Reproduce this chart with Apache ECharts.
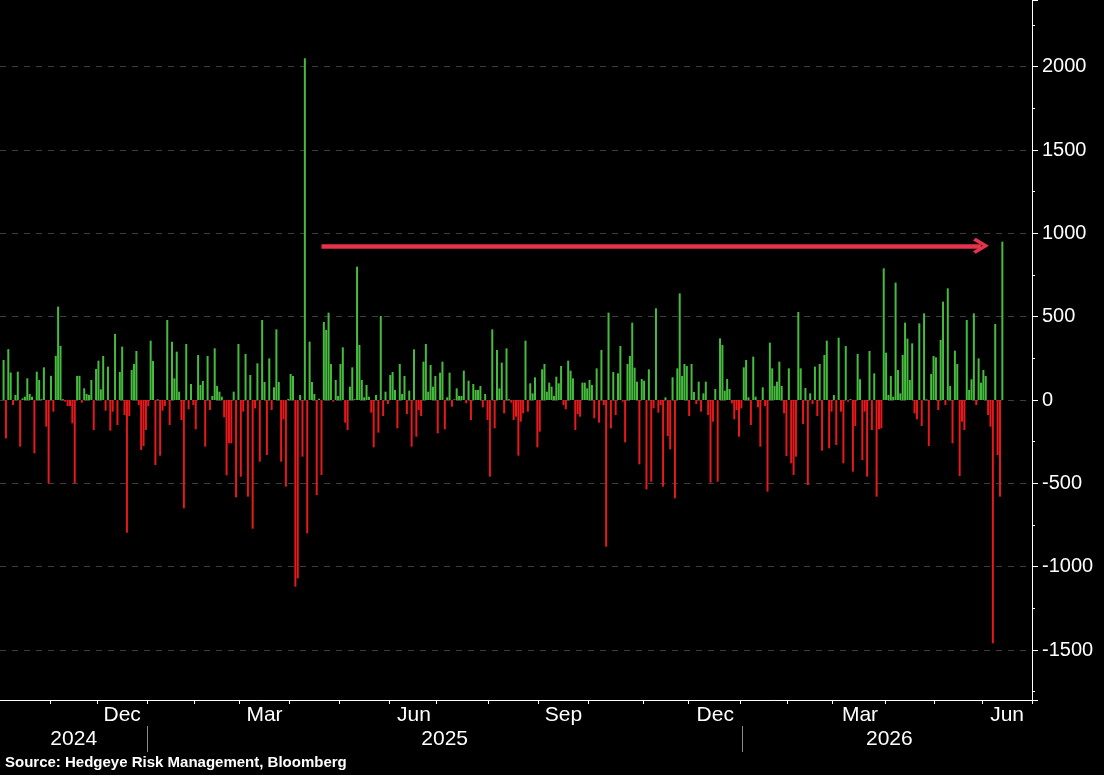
<!DOCTYPE html>
<html>
<head>
<meta charset="utf-8">
<script src="https://cdn.jsdelivr.net/npm/echarts@6.0.0/dist/echarts.min.js"></script>
<style>
html,body{margin:0;padding:0;background:#000;}
#chart{width:1104px;height:775px;}
</style>
</head>
<body>
<div id="chart"></div>
<script>
// ---- axis span (trading days) ----
const axisStart = '2024-10-03';
const axisEnd = '2026-06-30';
const marketHolidays = ['2024-11-28','2024-12-25','2025-01-01','2025-01-09','2025-01-20','2025-02-17',
  '2025-04-18','2025-05-26','2025-06-19','2025-07-04','2025-09-01','2025-11-27','2025-12-25',
  '2026-01-01','2026-01-19','2026-02-16','2026-04-03','2026-05-25','2026-06-19'];
const dataStart = '2024-10-04';

// ---- daily values (one per trading day from dataStart) ----
const values2024 = [
  240,-230,305,165,-30,30,170,-280,10,20,
  130,36,20,-320,170,120,5,196,-160,-500,
  145,-70,265,560,325,5,-10,-36,-36,-140,
  -500,145,145,-16,70,36,30,120,-180,186,
  236,64,264,-64,200,-184,-70,396,-150,168,
  320,-90,-796,-96,180,216,294,-30,-300,-276,
  -180
];
const values2025 = [
  -36,356,234,-390,4,-334,-64,-36,480,-150,
  350,130,290,50,-120,-650,336,-56,96,-30,
  -176,270,90,114,-280,264,-60,24,310,84,
  50,20,-104,-452,-260,-260,50,-584,336,-460,
  -70,276,-580,150,-772,-50,220,-370,480,108,
  -330,250,-60,76,424,108,-370,-116,-520,6,
  156,144,-1120,-1070,30,-340,2050,-800,350,108,
  36,-570,8,-450,468,420,524,216,-10,120,
  24,216,316,-136,-180,80,196,5,800,330,
  120,16,90,20,-76,-284,30,-196,504,-96,
  50,-24,150,168,60,-170,216,36,144,-84,
  56,-280,304,-220,-60,-96,230,336,50,210,
  80,144,-200,164,230,-176,16,164,-40,4,
  70,24,24,176,-20,116,-120,96,60,60,
  84,-44,36,-120,-460,424,-170,300,70,224,
  -80,310,5,-16,-120,-100,-334,-130,-80,356,
  -70,100,40,136,-284,-190,184,216,50,104,
  80,24,140,100,204,-30,-56,236,176,130,
  -180,-84,-100,104,104,70,120,90,-110,190,
  -136,300,-30,-880,524,-170,168,-90,160,324,
  -10,-254,216,264,464,194,110,-386,126,116,
  -536,184,-490,-50,550,-76,-30,-520,16,-216,
  -296,136,-590,190,640,144,216,204,-96,216,
  48,-24,110,-70,40,110,-90,-496,-130,66,
  -490,370,330,56,126,66,-20,-116,-60,-220
];
const values2026 = [
  -50,196,240,16,-150,260,20,-44,-280,76,
  -36,-550,344,190,84,110,230,84,-80,-336,
  190,-380,-450,-340,528,190,-144,72,-510,40,
  -24,200,-96,216,-304,270,356,-290,-70,30,
  -270,374,-70,-380,324,-10,5,-430,-156,276,
  124,-360,-70,-460,294,-180,160,-580,-176,-170,
  790,284,30,144,20,704,180,40,270,464,
  368,120,340,-80,-116,460,-156,520,4,-276,
  156,264,256,-60,360,590,-30,670,84,-260,
  296,216,-456,-130,-180,480,60,124,520,-30,
  250,104,180,144,-90,-160,-1460,456,-330,-580,
  950
];

// ---- labels ----
const monthNames = ['Jan','Feb','Mar','Apr','May','Jun','Jul','Aug','Sep','Oct','Nov','Dec'];
const labelledMonths = [2, 5, 8, 11];
const yTickLabels = [-1500, -1000, -500, 0, 500, 1000, 1500, 2000];
const arrowFrom = ['2025-04-21', 925];
const arrowTo = ['2026-05-29', 925];
const sourceText = 'Source: Hedgeye Risk Management, Bloomberg';

// ---- build trading-day categories ----
function fmt(d){ return d.toISOString().slice(0,10); }
const holidaySet = new Set(marketHolidays);
const categories = [];
for (let d = new Date(axisStart + 'T00:00:00Z'); fmt(d) <= axisEnd; d.setUTCDate(d.getUTCDate()+1)) {
  const wd = d.getUTCDay();
  const s = fmt(d);
  if (wd !== 0 && wd !== 6 && !holidaySet.has(s)) categories.push(s);
}
const allValues = values2024.concat(values2025, values2026);
const startIdx = categories.indexOf(dataStart);
const barData = categories.map((c, i) => {
  const k = i - startIdx;
  return (k >= 0 && k < allValues.length) ? allValues[k] : null;
});

// month / year groupings
const monthFirst = new Set();
const monthRanges = {};
const yearFirst = new Set();
const yearRanges = {};
categories.forEach((c, i) => {
  const ym = c.slice(0,7), y = c.slice(0,4);
  if (!monthRanges[ym]) { monthRanges[ym] = [i, i]; if (i > 0) monthFirst.add(i); }
  monthRanges[ym][1] = i;
  if (!yearRanges[y]) { yearRanges[y] = [i, i]; if (i > 0) yearFirst.add(i); }
  yearRanges[y][1] = i;
});
const monthLabelIdx = new Set();
Object.keys(monthRanges).forEach(ym => {
  const m = parseInt(ym.slice(5,7), 10) - 1;
  if (labelledMonths.indexOf(m) >= 0) {
    const r = monthRanges[ym];
    monthLabelIdx.add(Math.round((r[0] + r[1]) / 2));
  }
});
const yearLabelIdx = new Set();
Object.keys(yearRanges).forEach(y => {
  const r = yearRanges[y];
  yearLabelIdx.add(Math.round((r[0] + r[1] + 1) / 2));
});

const labelFont = "'Liberation Sans', Arial, sans-serif";
const chevron = 'path://M50,0 L100,70 L84,84 L50,34 L16,84 L0,70 Z';

const chart = echarts.init(document.getElementById('chart'), null, {renderer: 'canvas'});
chart.setOption({
  backgroundColor: '#000',
  animation: false,
  grid: { left: 0, right: 72, top: 0, bottom: 75, containLabel: false, outerBoundsMode: 'none' },
  xAxis: [{
    type: 'category',
    data: categories,
    boundaryGap: true,
    position: 'bottom',
    axisLine: { show: true, onZero: false, lineStyle: { color: '#fff', width: 1 } },
    axisTick: {
      show: true, length: 4, alignWithLabel: false,
      interval: (i) => monthFirst.has(i),
      lineStyle: { color: '#fff', width: 1 }
    },
    axisLabel: {
      show: true,
      interval: (i) => monthLabelIdx.has(i),
      formatter: (v) => monthNames[parseInt(v.slice(5,7), 10) - 1],
      color: '#fff', fontSize: 21, fontFamily: labelFont, margin: 5
    },
    splitLine: { show: false }
  }, {
    type: 'category',
    data: categories,
    boundaryGap: false,
    position: 'bottom',
    offset: 26,
    axisLine: { show: true, onZero: false, lineStyle: { color: 'rgba(0,0,0,0)', width: 1 } },
    axisTick: {
      show: true, length: 26,
      interval: (i) => yearFirst.has(i),
      lineStyle: { color: '#8a8a8a', width: 1 }
    },
    axisLabel: {
      show: true,
      interval: (i) => yearLabelIdx.has(i),
      formatter: (v) => v.slice(0,4),
      color: '#fff', fontSize: 21, fontFamily: labelFont, margin: 3
    },
    splitLine: { show: false }
  }],
  yAxis: {
    type: 'value',
    position: 'right',
    min: -1800,
    max: 2400,
    splitNumber: 8,
    axisLine: { show: true, lineStyle: { color: '#fff', width: 1 } },
    axisTick: { show: true, length: 6, lineStyle: { color: '#fff', width: 1 } },
    minorTick: { show: true, splitNumber: 2, length: 3, lineStyle: { color: '#fff', width: 1 } },
    axisLabel: {
      color: '#fff', fontSize: 20, fontFamily: "'Liberation Sans', Arial, sans-serif", margin: 10,
      showMinLabel: false, showMaxLabel: false,
      formatter: (v) => (yTickLabels.indexOf(v) >= 0 ? String(v) : '')
    },
    splitLine: { show: true, showMinLine: false, showMaxLine: false,
      lineStyle: { color: '#3d3d3d', type: [6, 6], width: 1 } }
  },
  series: [{
    type: 'bar',
    data: barData,
    barWidth: 2,
    xAxisIndex: 0,
    itemStyle: { color: (p) => (p.value >= 0 ? '#46bc3e' : '#e6191c') },
    emphasis: { disabled: true },
    markLine: {
      silent: true,
      symbol: ['none', chevron],
      symbolSize: 16,
      label: { show: false },
      lineStyle: { color: '#e5334b', width: 4.5, type: 'solid' },
      emphasis: { disabled: true },
      data: [[ { coord: arrowFrom }, { coord: arrowTo } ]]
    }
  }],
  graphic: [{
    type: 'text', left: 5, top: 755,
    style: { text: sourceText, fill: '#fff', font: "bold 15px 'Liberation Sans', Arial, sans-serif" }
  }]
});
</script>
</body>
</html>
